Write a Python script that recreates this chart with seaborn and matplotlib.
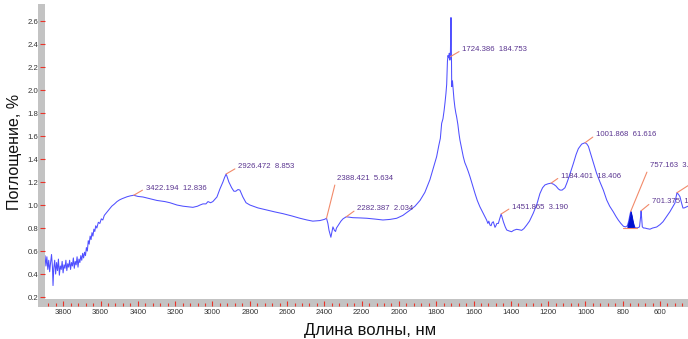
import numpy as np
import pandas as pd
import matplotlib
matplotlib.use("Agg")
import matplotlib.pyplot as plt
from matplotlib.patches import Rectangle
from matplotlib.ticker import MultipleLocator, FormatStrFormatter
import seaborn as sns

# IR spectrum: wavenumber (cm^-1) and absorbance
wavenumber = [
    3898, 3893, 3888, 3883, 3878, 3873, 3868, 3863, 3858, 3855, 3851, 3846, 3841, 3836,
    3831, 3826, 3821, 3816, 3811, 3806, 3801, 3796, 3791, 3786, 3781, 3776, 3771, 3766,
    3761, 3756, 3751, 3746, 3741, 3736, 3731, 3726, 3721, 3716, 3711, 3706, 3701, 3696,
    3691, 3686, 3681, 3676, 3671, 3666, 3661, 3656, 3651, 3646, 3641, 3636, 3631, 3626,
    3620, 3612, 3604, 3596, 3588, 3580, 3570, 3560, 3550, 3540, 3525, 3512, 3498, 3485,
    3470, 3458, 3440, 3422.194, 3400, 3373, 3335, 3298, 3255, 3228, 3190, 3158, 3130, 3105,
    3080, 3067, 3051, 3035, 3024, 3010, 2998, 2976, 2960, 2944, 2935, 2926.472, 2912, 2897,
    2885, 2875, 2863, 2853, 2837, 2820, 2799, 2756, 2709, 2665, 2622, 2574, 2531, 2493,
    2462, 2424, 2400, 2388.421, 2381, 2375, 2365, 2358, 2354, 2346, 2340, 2335, 2327, 2311,
    2300, 2282.387, 2270, 2247, 2209, 2172, 2129, 2086, 2048, 2012, 1979, 1941, 1914, 1887,
    1861, 1834, 1818, 1798, 1786, 1778, 1771, 1764, 1758, 1753, 1748, 1744, 1740, 1737,
    1733, 1730, 1727, 1724.386, 1721, 1719, 1717, 1713, 1709, 1705, 1700, 1695, 1691, 1684,
    1678, 1673, 1665, 1655, 1647, 1637, 1628, 1619, 1605, 1592, 1580, 1566, 1552, 1539,
    1530, 1523, 1518, 1512, 1506, 1501, 1494, 1488, 1485, 1480, 1475, 1467, 1460, 1451.865,
    1445, 1440, 1430, 1422, 1410, 1396, 1385, 1369, 1355, 1342, 1330, 1315, 1300, 1280,
    1260, 1244, 1230, 1217, 1200, 1184.401, 1170, 1158, 1145, 1136, 1125, 1110, 1100, 1085,
    1065, 1050, 1038, 1020, 1001.868, 992, 984, 967, 952, 940, 922, 904, 886, 870,
    851, 836, 824, 810, 796, 785, 775, 768, 762, 757.163, 752, 746, 740,
    733, 724, 716, 710, 704, 701.375, 698, 695, 688, 681, 670, 654, 640, 618,
    600, 584, 565, 547, 530, 520, 514, 509, 500, 493, 485, 477, 470, 457, 450,
]
absorbance = [
    0.56, 0.47, 0.55, 0.44, 0.52, 0.42, 0.50, 0.57, 0.46, 0.30, 0.45, 0.52, 0.40, 0.50,
    0.43, 0.53, 0.39, 0.47, 0.44, 0.51, 0.41, 0.48, 0.45, 0.52, 0.43, 0.49, 0.46, 0.52,
    0.44, 0.50, 0.47, 0.54, 0.45, 0.51, 0.48, 0.55, 0.46, 0.53, 0.50, 0.56, 0.52, 0.58,
    0.54, 0.59, 0.56, 0.63, 0.60, 0.69, 0.66, 0.73, 0.70, 0.76, 0.73, 0.79, 0.77, 0.82,
    0.80, 0.85, 0.84, 0.88, 0.87, 0.91, 0.93, 0.95, 0.97, 0.99, 1.01, 1.03, 1.045, 1.055,
    1.065, 1.072, 1.08, 1.085, 1.075, 1.07, 1.055, 1.04, 1.03, 1.02, 1.00, 0.99, 0.985, 0.98,
    0.99, 1.00, 1.01, 1.01, 1.03, 1.02, 1.03, 1.07, 1.14, 1.20, 1.24, 1.27, 1.20, 1.15,
    1.12, 1.12, 1.135, 1.13, 1.07, 1.02, 1.00, 0.975, 0.957, 0.94, 0.925, 0.905, 0.885, 0.87,
    0.86, 0.865, 0.875, 0.885, 0.84, 0.78, 0.72, 0.78, 0.81, 0.78, 0.77, 0.80, 0.82, 0.86,
    0.88, 0.898, 0.895, 0.89, 0.888, 0.885, 0.878, 0.87, 0.875, 0.885, 0.91, 0.955, 0.99, 1.04,
    1.11, 1.22, 1.31, 1.42, 1.52, 1.58, 1.71, 1.75, 1.82, 1.89, 1.97, 2.05, 2.25, 2.30,
    2.28, 2.32, 2.26, 2.29, 2.63, 2.40, 2.03, 2.08, 2.00, 1.92, 1.85, 1.80, 1.77, 1.70,
    1.62, 1.565, 1.50, 1.42, 1.37, 1.33, 1.29, 1.246, 1.17, 1.10, 1.04, 0.985, 0.94, 0.898,
    0.87, 0.84, 0.86, 0.826, 0.82, 0.845, 0.855, 0.82, 0.806, 0.82, 0.84, 0.84, 0.88, 0.922,
    0.885, 0.855, 0.81, 0.783, 0.775, 0.768, 0.78, 0.789, 0.785, 0.78, 0.795, 0.826, 0.86, 0.928,
    1.01, 1.10, 1.15, 1.175, 1.185, 1.19, 1.18, 1.165, 1.14, 1.13, 1.13, 1.15, 1.19, 1.26,
    1.36, 1.44, 1.49, 1.53, 1.542, 1.53, 1.51, 1.42, 1.34, 1.275, 1.20, 1.13, 1.044, 0.99,
    0.942, 0.90, 0.87, 0.84, 0.815, 0.81, 0.82, 0.86, 0.91, 0.945, 0.91, 0.86, 0.82,
    0.805, 0.80, 0.805, 0.81, 0.90, 0.95, 0.88, 0.81, 0.80, 0.80, 0.795, 0.79, 0.80, 0.809,
    0.83, 0.855, 0.90, 0.942, 0.99, 1.017, 1.07, 1.107, 1.09, 1.072, 1.02, 0.974, 0.975, 0.985, 0.99,
]

# Picked peaks: position and integrated value
peak_positions = [3422.194, 2926.472, 2388.421, 2282.387, 1724.386,
                  1451.865, 1184.401, 1001.868, 757.163, 701.375]
peak_values = ["12.836", "8.853", "5.634", "2.034", "184.753",
               "3.190", "18.406", "61.616", "3.952", "1.284"]
unlabeled_peak = 509

# Integrated band around the 757 peak
band_limits = (776, 738)
baseline_limits = (796, 722)

y_ticks = [0.2, 0.4, 0.6, 0.8, 1.0, 1.2, 1.4, 1.6, 1.8, 2.0, 2.2, 2.4, 2.6]
x_ticks = [3800, 3600, 3400, 3200, 3000, 2800, 2600, 2400, 2200, 2000,
           1800, 1600, 1400, 1200, 1000, 800, 600]

df = pd.DataFrame({"wavenumber": wavenumber, "absorbance": absorbance})

sns.set_theme(style="white")
plt.rcParams["font.family"] = ["Liberation Sans", "DejaVu Sans"]

W, H = 688, 339
fig = plt.figure(figsize=(W / 100, H / 100), dpi=100)
ax = fig.add_axes([45 / W, 40 / H, (W - 45) / W, 295 / H])

line_color = "#4f4fff"
tick_red = "#e8342a"
label_purple = "#5a3590"
leader = "#f28a6a"

sns.lineplot(data=df, x="wavenumber", y="absorbance", ax=ax, estimator=None,
             sort=False, color=line_color, linewidth=0.75)

# shaded integration band and its baseline
w = np.array(wavenumber)
a = np.array(absorbance)
order = np.argsort(w)
ws, as_ = w[order], a[order]
b0 = np.interp(baseline_limits[0], ws, as_)
b1 = np.interp(baseline_limits[1], ws, as_)
base_level = min(b0, b1)
mask = (w <= band_limits[0]) & (w >= band_limits[1])
ax.fill_between(w[mask], a[mask], base_level, color="#0010d0", linewidth=0.6,
                edgecolor="#0010d0", zorder=3)
ax.plot(list(baseline_limits), [base_level, base_level], color=leader, lw=0.8, zorder=3)

# peak labels with leader lines
offsets = [(12, 7), (12, 7), (10, 40), (11, 8), (12, 7),
           (11, 7), (10, 7), (11, 8), (19, 46), (11, 9)]
for pos, val, (dx, dy) in zip(peak_positions, peak_values, offsets):
    yv = np.interp(pos, ws, as_)
    ax.annotate(f"{pos:.3f}  {val}", xy=(pos, yv), xytext=(dx, dy),
                textcoords="offset pixels", ha="left", va="center",
                fontsize=5.6, color=label_purple, annotation_clip=False,
                arrowprops=dict(arrowstyle="-", color=leader, lw=0.8,
                                shrinkA=0, shrinkB=0, relpos=(0, 0.5)))
yv = np.interp(unlabeled_peak, ws, as_)
ax.annotate("", xy=(unlabeled_peak, yv), xytext=(14, 9), textcoords="offset pixels",
            annotation_clip=False,
            arrowprops=dict(arrowstyle="-", color=leader, lw=0.8, shrinkA=0, shrinkB=0))

ax.set_xlim(3898, 450)
ax.set_ylim(0.183, 2.748)

ax.set_xticks(x_ticks)
ax.xaxis.set_minor_locator(MultipleLocator(40))
ax.set_yticks(y_ticks)
ax.yaxis.set_major_formatter(FormatStrFormatter("%.1f"))

for s in ax.spines.values():
    s.set_color("none")
ax.spines["bottom"].set_position(("outward", 4.8))

ax.tick_params(axis="y", which="major", direction="out", length=3.6, width=0.8,
               color=tick_red, pad=1.2, labelsize=5.6, labelcolor="#333333", left=True)
ax.tick_params(axis="x", which="major", direction="in", length=3.4, width=0.8,
               color=tick_red, pad=2.6, labelsize=5.6, labelcolor="#333333", bottom=True)
ax.tick_params(axis="x", which="minor", direction="in", length=2.4, width=0.8,
               color=tick_red, bottom=True)

# grey axis bands
fig.add_artist(Rectangle((38 / W, 32 / H), 7 / W, 303 / H, transform=fig.transFigure,
                         facecolor="#c3c3c3", edgecolor="none", zorder=-1))
fig.add_artist(Rectangle((38 / W, 32 / H), (W - 38) / W, 8 / H, transform=fig.transFigure,
                         facecolor="#c3c3c3", edgecolor="none", zorder=-1))

ax.set_xlabel("Длина волны, нм", fontsize=12, color="#111111")
ax.set_ylabel("Поглощение, %", fontsize=11.5, color="#111111")
ax.xaxis.set_label_coords((370 - 45) / 643, (299 - 323) / 295)
ax.yaxis.set_label_coords((22 - 45) / 643, 0.5)

fig.savefig("out.png", dpi=100)
